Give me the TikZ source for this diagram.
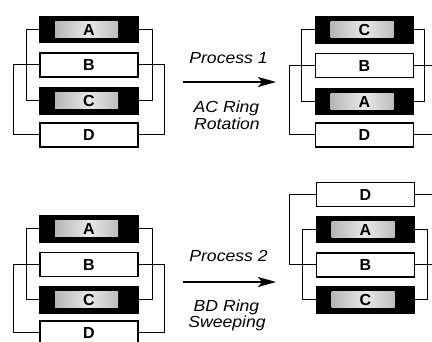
\documentclass[tikz,border=0pt]{standalone}
\usepackage{fontspec}
\setmainfont{Liberation Sans}
\newfontfamily\labfont[FakeStretch=1.1]{Liberation Sans}
\usetikzlibrary{arrows.meta}
\tikzset{
 wbox/.style={draw=black, line width=1.4pt, fill=white, minimum width=98pt, minimum height=24pt, inner sep=0pt, outer sep=0pt, font=\fontsize{16}{18}\selectfont\bfseries},
 blkbox/.style={wbox, fill=black, minimum height=26pt, path picture={\shade[left color=gray!75, right color=gray!75, middle color=gray!18] ([xshift=15pt,yshift=5pt]path picture bounding box.south west) rectangle ([xshift=-20pt,yshift=-5pt]path picture bounding box.north east);}},
 ring/.style={draw=black, line width=1pt},
 proc/.style={font=\labfont\itshape\fontsize{16}{18}\selectfont, inner sep=0pt, anchor=base},
 parrow/.style={line width=1.4pt, -{Stealth[length=18pt,width=10pt,inset=4pt]}}
}
\begin{document}
\begin{tikzpicture}[x=1pt,y=-1pt]
\useasboundingbox (0,0) rectangle (432,342);
\clip (0,0) rectangle (432,342);
% ---------- top left ----------
\node[blkbox] (tlA) at (89,29.5) {A};
\node[wbox]   (tlB) at (89,65) {B};
\node[blkbox] (tlC) at (89,101) {C};
\node[wbox]   (tlD) at (89,135) {D};
\draw[ring] (tlA.west) -- ++(-14,0) |- (tlC.west);
\draw[ring] (tlA.east) -- ++(14,0) |- (tlC.east);
\draw[ring] (tlB.west) -- ++(-27,0) |- (tlD.west);
\draw[ring] (tlB.east) -- ++(26,0) |- (tlD.east);
% ---------- top right ----------
\node[blkbox] (trC) at (364.5,30) {C};
\node[wbox]   (trB) at (364.5,65.5) {B};
\node[blkbox] (trA) at (364.5,101.5) {A};
\node[wbox]   (trD) at (364.5,135) {D};
\draw[ring] (trC.west) -- ++(-14,0) |- (trA.west);
\draw[ring] (trC.east) -- ++(11,0) |- (trA.east);
\draw[ring] (trB.west) -- ++(-26,0) |- (trD.west);
\draw[ring] (trB.east) -- ++(24,0) |- (trD.east);
% ---------- bottom left ----------
\node[blkbox] (blA) at (89,229) {A};
\node[wbox]   (blB) at (89,264.5) {B};
\node[blkbox] (blC) at (89,300) {C};
\node[wbox]   (blD) at (89,333) {D};
\draw[ring] (blA.west) -- ++(-14,0) |- (blC.west);
\draw[ring] (blA.east) -- ++(14,0) |- (blC.east);
\draw[ring] (blB.west) -- ++(-27,0) |- (blD.west);
\draw[ring] (blB.east) -- ++(26,0) |- (blD.east);
% ---------- bottom right ----------
\node[wbox]   (brD) at (365.5,194.5) {D};
\node[blkbox] (brA) at (365.5,229.5) {A};
\node[wbox]   (brB) at (365.5,265) {B};
\node[blkbox] (brC) at (365.5,300) {C};
\draw[ring] (brD.west) -- ++(-27,0) |- (brB.west);
\draw[ring] (brD.east) -- ++(24,0) |- (brB.east);
\draw[ring] (brA.west) -- ++(-14,0) |- (brC.west);
\draw[ring] (brA.east) -- ++(13,0) |- (brC.east);
% ---------- processes ----------
\coordinate (p1s) at (183,82);
\coordinate (p1e) at (276,82);
\draw[parrow] (p1s) -- (p1e);
\node[proc] (p1) at (228.5,64) {Process 1};
\node[proc] (p1a) at (226.5,113) {AC Ring};
\node[proc] (p1b) at (227,130) {Rotation};
\coordinate (p2s) at (183,282);
\coordinate (p2e) at (276,282);
\draw[parrow] (p2s) -- (p2e);
\node[proc] (p2) at (228.5,262) {Process 2};
\node[proc] (p2a) at (226.5,312) {BD Ring};
\node[proc] (p2b) at (227,328) {Sweeping};
\end{tikzpicture}
\end{document}
